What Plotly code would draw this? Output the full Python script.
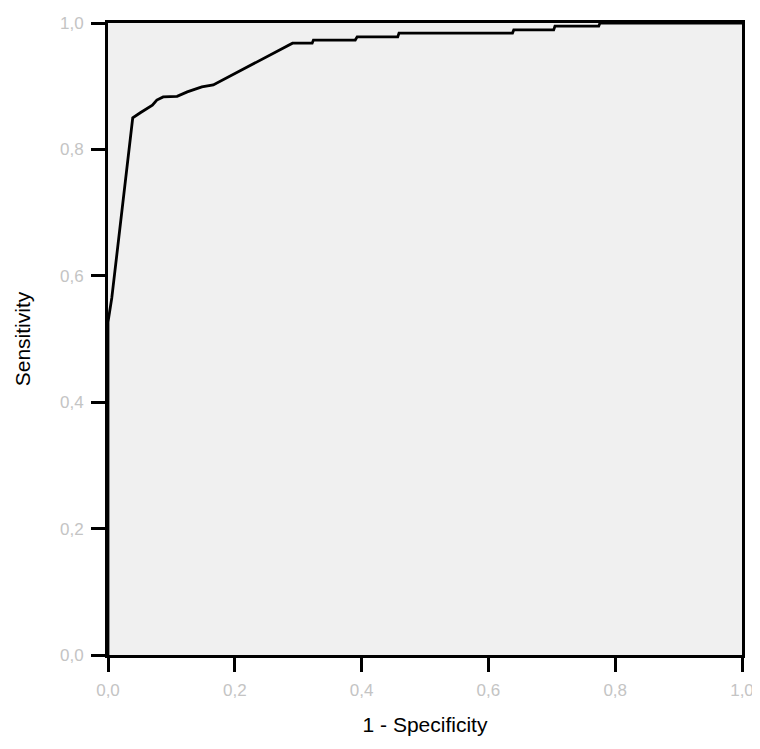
import plotly.graph_objects as go

# ROC curve points
fpr = [0.0, 0.0, 0.006, 0.039, 0.051, 0.070, 0.077, 0.087, 0.109, 0.125, 0.148, 0.166,
       0.291, 0.322, 0.324, 0.390, 0.393, 0.457, 0.459, 0.638, 0.640, 0.703, 0.705,
       0.774, 0.776, 1.0]
tpr = [0.0, 0.527, 0.565, 0.850, 0.858, 0.870, 0.878, 0.883, 0.884, 0.891, 0.899, 0.902,
       0.968, 0.968, 0.973, 0.973, 0.978, 0.978, 0.984, 0.984, 0.989, 0.989, 0.995,
       0.995, 1.0, 1.0]

tick_vals = [0.0, 0.2, 0.4, 0.6, 0.8, 1.0]
tick_text = ["0,0", "0,2", "0,4", "0,6", "0,8", "1,0"]

FONT = "Liberation Sans, Arial, sans-serif"

fig = go.Figure()
fig.add_trace(go.Scatter(x=fpr, y=tpr, mode="lines",
                         line=dict(color="black", width=2.8),
                         showlegend=False, hoverinfo="skip"))

def axis(title, standoff):
    return dict(
        range=[0, 1], tickmode="array", tickvals=tick_vals, ticktext=tick_text,
        showgrid=False, zeroline=False, automargin=False,
        showline=True, linecolor="black", linewidth=3, mirror=True,
        ticks="outside", ticklen=14, tickwidth=3, tickcolor="#000000",
        ticklabelstandoff=4,
        tickfont=dict(family=FONT, size=17, color="#c4c4c4"),
        title=dict(text=title, standoff=standoff,
                   font=dict(family=FONT, size=21, color="black")),
    )

# page body has an 8px margin, so the figure is offset by (8, 8)
fig.update_layout(
    width=752, height=741,
    margin=dict(l=100, r=18, t=15, b=94),
    paper_bgcolor="white", plot_bgcolor="#f0f0f0",
    xaxis=axis("1 - Specificity", 18),
    yaxis=axis("Sensitivity", 24),
)

fig.write_html("out.html")
